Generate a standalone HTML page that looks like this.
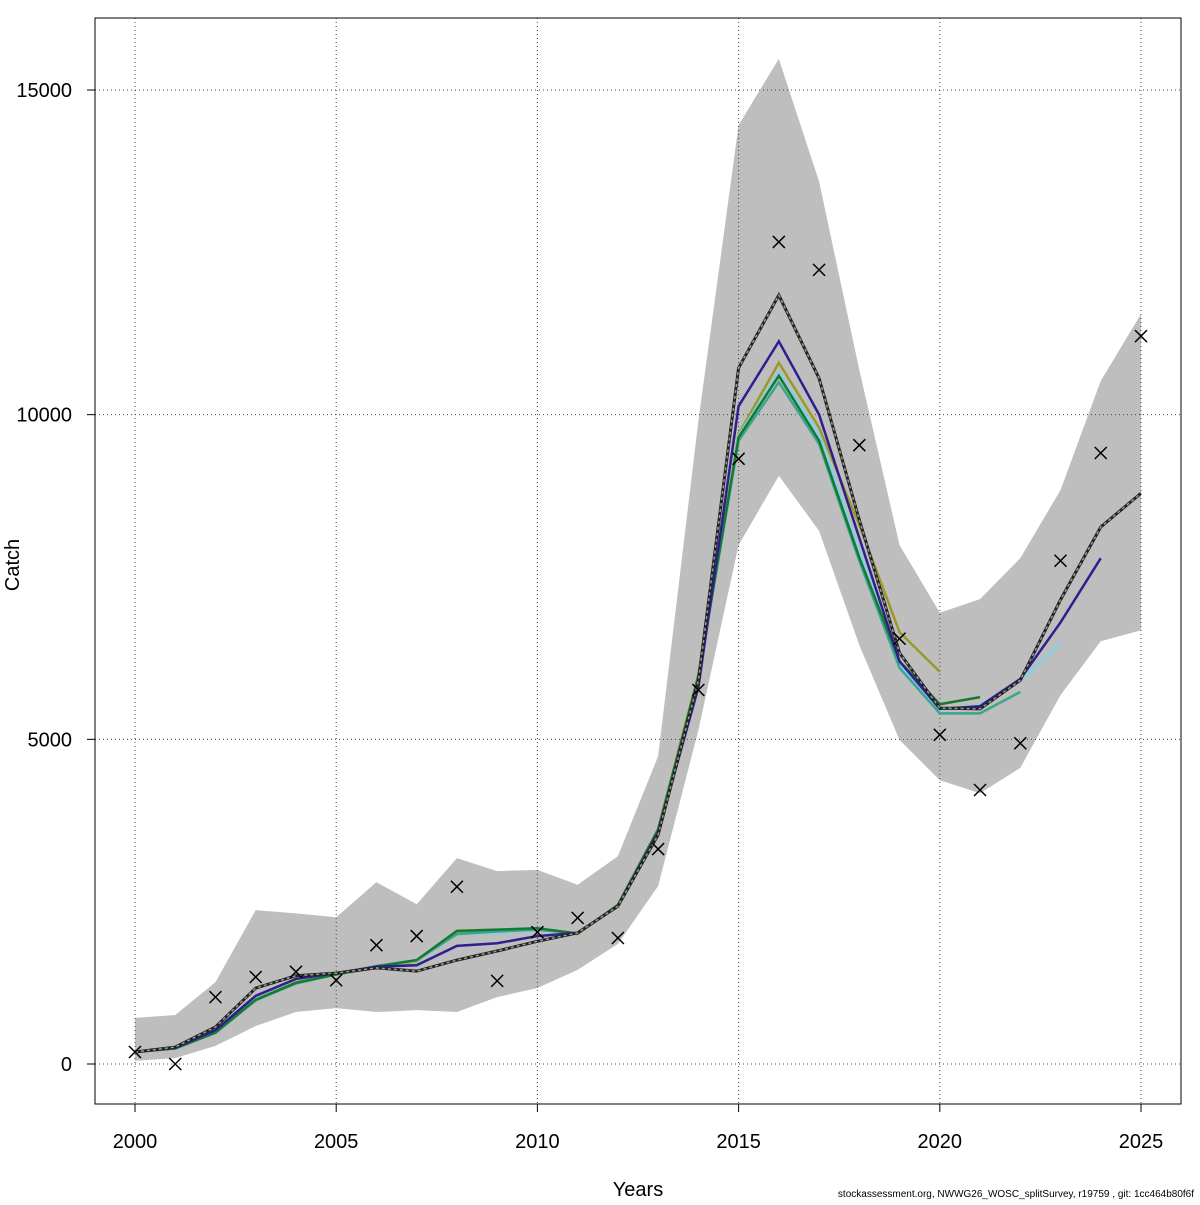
<!DOCTYPE html>
<html><head><meta charset="utf-8"><style>
body{margin:0;background:#fff;}
svg text{font-family:"Liberation Sans",sans-serif;}
</style></head><body>
<svg id="chart" width="1200" height="1200" xmlns="http://www.w3.org/2000/svg"></svg>
<script>
const years=[2000,2001,2002,2003,2004,2005,2006,2007,2008,2009,2010,2011,2012,2013,2014,2015,2016,2017,2018,2019,2020,2021,2022,2023,2024,2025];
const bandUpper=[710,755,1260,2370,2320,2260,2800,2460,3170,2970,2990,2760,3200,4740,9900,14460,15480,13590,10690,7990,6950,7160,7790,8840,10520,11550];
const bandLower=[50,90,280,585,800,860,800,830,800,1030,1170,1450,1850,2740,5140,7990,9060,8210,6450,4990,4370,4170,4560,5680,6510,6680];
const observed=[185,0,1030,1340,1420,1290,1830,1970,2730,1280,2030,2250,1940,3310,5760,9320,12660,12230,9530,6550,5070,4220,4940,7750,9410,11210];
const fitMain=[185,260,570,1170,1360,1400,1480,1430,1600,1740,1890,2020,2430,3530,5900,10720,11840,10560,8380,6330,5480,5470,5910,7150,8270,8790];
const peel2024=[185,250,520,1050,1310,1400,1500,1520,1820,1860,1970,2020,2430,3570,5800,10130,11130,10000,8100,6200,5470,5510,5930,6800,7790];
const peel2023=[185,240,490,1000,1250,1380,1500,1590,2000,2020,2060,2010,2440,3600,5950,9680,10650,9700,7900,6150,5450,5530,5900,6480];
const peel2022=[185,240,480,980,1240,1380,1510,1600,2000,2040,2070,2010,2440,3600,5950,9600,10500,9550,7750,6100,5400,5400,5730];
const peel2021=[185,240,485,990,1250,1380,1500,1600,2050,2070,2090,2010,2450,3610,5970,9650,10600,9600,7800,6200,5540,5650];
const peel2020=[185,240,480,1000,1260,1380,1480,1580,2030,2060,2080,2000,2450,3620,6000,9700,10800,9800,8300,6650,6040];
const xTicks=[2000,2005,2010,2015,2020,2025];
const yTicks=[0,5000,10000,15000];

const svg=document.getElementById('chart');
const NS='http://www.w3.org/2000/svg';
const L=95,R=1181,T=18,B=1104;
const xs=y=>135+(y-2000)*(1141-135)/25;
const ys=v=>1064-v*(1064-90)/15000;
function mk(tag,attrs,parent){const e=document.createElementNS(NS,tag);for(const k in attrs)e.setAttribute(k,attrs[k]);(parent||svg).appendChild(e);return e;}

// band
let pts=years.map((y,i)=>xs(y)+','+ys(bandUpper[i]));
for(let i=years.length-1;i>=0;i--)pts.push(xs(years[i])+','+ys(bandLower[i]));
const band=mk('polygon',{points:pts.join(' '),fill:'#bebebe',stroke:'none'});



// grid
xTicks.forEach(t=>{const g=mk('line',{x1:xs(t),x2:xs(t),y1:T,y2:B,stroke:'#444','stroke-width':1,'stroke-dasharray':'1,3'});

});
yTicks.forEach(t=>{const g=mk('line',{x1:L,x2:R,y1:ys(t),y2:ys(t),stroke:'#444','stroke-width':1,'stroke-dasharray':'1,3'});

});

function line(arr,color,w,name,dash){
  const p=arr.map((v,i)=>xs(years[i])+','+ys(v)).join(' ');
  const e=mk('polyline',{points:p,fill:'none',stroke:color,'stroke-width':w,'stroke-linejoin':'miter'});
  if(dash)e.setAttribute('stroke-dasharray',dash);
  
  
  return e;
}
line(peel2020,'#9a9a2a',2.5,'peel-2020-line');
line(peel2023,'#87ceeb',2.5,'peel-2023-line');
line(peel2022,'#3aa68e',2.5,'peel-2022-line');
line(peel2021,'#157a30',2.5,'peel-2021-line');
line(peel2024,'#2e1f8e',2.5,'peel-2024-line');
line(fitMain,'#222',3,'fit-line-base');
line(fitMain,'#9a9a9a',1.5,'fit-line-dash','3,3');

// crosses
observed.forEach((v,i)=>{const cx=xs(years[i]),cy=ys(v),s=6;
  const g=mk('path',{d:`M${cx-s},${cy-s}L${cx+s},${cy+s}M${cx-s},${cy+s}L${cx+s},${cy-s}`,stroke:'#000','stroke-width':1.5,fill:'none'});
  
  });

// box
const box=mk('rect',{x:L,y:T,width:R-L,height:B-T,fill:'none',stroke:'#000','stroke-width':1});



xTicks.forEach(t=>{mk('line',{x1:xs(t),x2:xs(t),y1:B,y2:B+8,stroke:'#000'});
  const tx=mk('text',{x:xs(t),y:1148,'font-size':20,'text-anchor':'middle'});tx.textContent=t;
  
  });
yTicks.forEach(t=>{mk('line',{x1:L-8,x2:L,y1:ys(t),y2:ys(t),stroke:'#000'});
  const tx=mk('text',{x:72,y:ys(t)+7,'font-size':20,'text-anchor':'end'});tx.textContent=t;
  
  });

const xl=mk('text',{x:638,y:1196,'font-size':20,'text-anchor':'middle'});xl.textContent='Years';


const yl=mk('text',{x:19,y:565,'font-size':20,'text-anchor':'middle',transform:'rotate(-90 19 565)'});yl.textContent='Catch';


const ft=mk('text',{x:1194,y:1197,'font-size':10,'text-anchor':'end'});ft.textContent='stockassessment.org, NWWG26_WOSC_splitSurvey, r19759 , git: 1cc464b80f6f';


</script>
</body></html>
